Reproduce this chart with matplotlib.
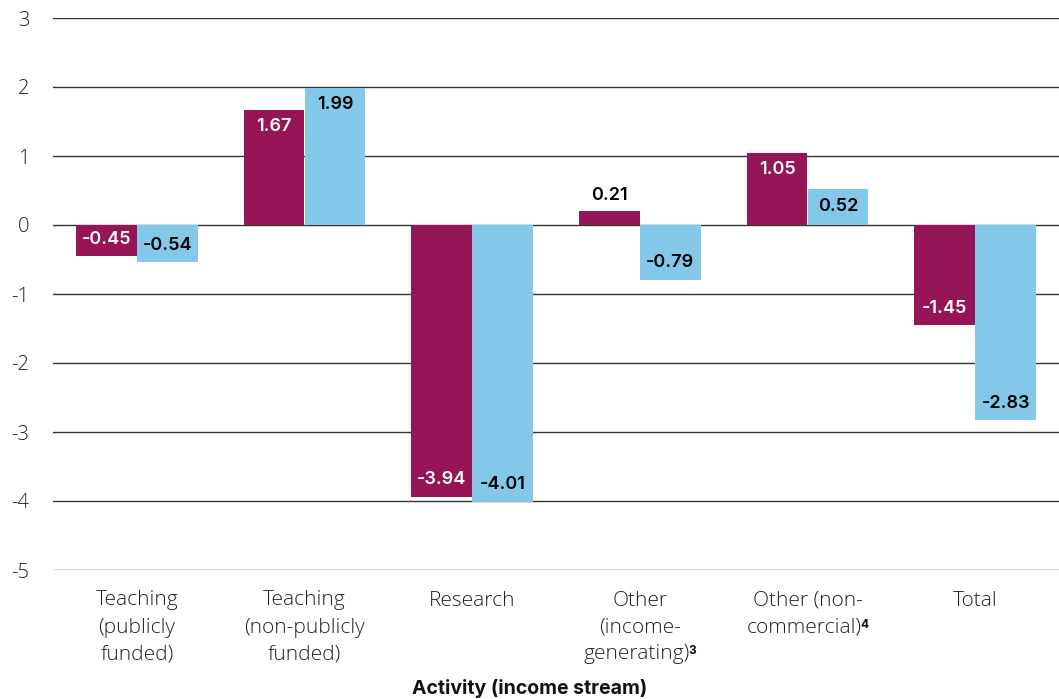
import matplotlib
matplotlib.use("Agg")
import matplotlib.pyplot as plt
import numpy as np

# Category names split into lines; a footnote marker follows some of them.
categories = [
    ["Teaching", "(publicly", "funded)"],
    ["Teaching", "(non-publicly", "funded)"],
    ["Research"],
    ["Other", "(income-", "generating)"],
    ["Other (non-", "commercial)"],
    ["Total"],
]
footnotes = ["", "", "", "3", "4", ""]
series_a = [-0.45, 1.67, -3.94, 0.21, 1.05, -1.45]
series_b = [-0.54, 1.99, -4.01, -0.79, 0.52, -2.83]
y_ticks = [3, 2, 1, 0, -1, -2, -3, -4, -5]

MAROON = "#951556"
SKY = "#83C8E8"
LIGHT = ["Open Sans", "DejaVu Sans"]
MEDIUM = ["Inter", "DejaVu Sans"]

W, H = 1059, 699
fig = plt.figure(figsize=(W / 100, H / 100), dpi=100)
ax = fig.add_axes([53 / W, 1 - 570 / H, 1 - 53 / W, (570 - 18) / H])

x = np.arange(len(categories))
w = 0.363
bars_a = ax.bar(x - w / 2, series_a, w, color=MAROON, zorder=3)
bars_b = ax.bar(x + w / 2, series_b, w, color=SKY, zorder=3)

ax.set_ylim(-5, 3)
ax.set_xlim(-0.5, len(categories) - 0.5)
ax.set_yticks(y_ticks)
ax.set_yticklabels([str(t) for t in y_ticks], family=LIGHT, fontweight="light",
                   fontsize=14.5, color="#222222")
ax.yaxis.grid(True, color="#333333", linewidth=1.0, zorder=1)
ax.tick_params(axis="y", length=0, pad=17)
ax.set_xticks([])
for s in ax.spines.values():
    s.set_visible(False)


def label_bars(bars, values, txt_color):
    for b, v in zip(bars, values):
        cx = b.get_x() + b.get_width() / 2
        if abs(v) < 0.4:
            off = 15 if v >= 0 else -15
            col = "black"
        else:
            off = -17 if v >= 0 else 17
            col = txt_color
        ax.annotate(f"{v:.2f}", (cx, v), xytext=(0, off), textcoords="offset pixels",
                    ha="center", va="center", color=col, fontsize=13,
                    family=MEDIUM, fontweight=600, zorder=4)


label_bars(bars_a, series_a, "white")
label_bars(bars_b, series_b, "black")

# Category labels, one text per line, centred under each group.
renderer = fig.canvas.get_renderer()
first_baseline = 605.5
line_step = 27
lab_kw = dict(family=LIGHT, fontweight="light", fontsize=15, color="#222222")
sup_kw = dict(family=MEDIUM, fontweight="bold", fontsize=8.5, color="#111111")


def text_width(s, **kw):
    t = fig.text(0, 0, s, **kw)
    wd = t.get_window_extent(renderer).width
    t.remove()
    return wd


for i, (lines, note) in enumerate(zip(categories, footnotes)):
    cx = ax.transData.transform((x[i], 0))[0]
    for j, line in enumerate(lines):
        y_px = first_baseline + j * line_step
        yf = 1 - y_px / H
        last = j == len(lines) - 1
        if last and note:
            wl = text_width(line, **lab_kw)
            ws = text_width(note, **sup_kw)
            x0 = cx - (wl + ws - 2) / 2
            fig.text(x0 / W, yf, line, ha="left", va="baseline", **lab_kw)
            fig.text((x0 + wl - 2) / W, 1 - (y_px - 5) / H, note,
                     ha="left", va="baseline", **sup_kw)
        else:
            fig.text(cx / W, yf, line, ha="center", va="baseline", **lab_kw)

fig.text(0.5, 1 - 688 / H, "Activity (income stream)", ha="center", va="center",
         family=MEDIUM, fontweight="bold", fontsize=14, color="#111111")

fig.savefig("out.png", dpi=100)
